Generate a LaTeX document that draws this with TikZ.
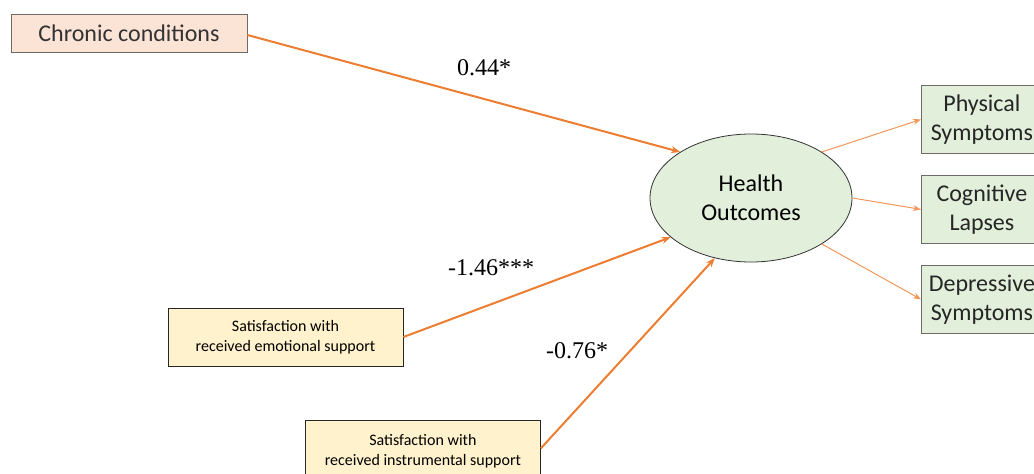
\documentclass[tikz,border=0pt]{standalone}
\usepackage{fontspec}
\setmainfont{Carlito}
\newfontfamily\labfont{Liberation Serif}
\usetikzlibrary{shapes.geometric,arrows.meta}
\definecolor{arrowor}{HTML}{ED7D31}
\definecolor{pinkfill}{HTML}{FBE3D6}
\definecolor{greenfill}{HTML}{E2EFDA}
\definecolor{yellowfill}{HTML}{FFF2CC}
\definecolor{boxline}{HTML}{6F6A68}
\begin{document}
\begin{tikzpicture}[x=1pt,y=-1pt,
  pinkbox/.style={draw=boxline,fill=pinkfill,line width=0.8pt,minimum width=236pt,minimum height=38pt,inner sep=0pt,font=\fontsize{24}{28}\selectfont,text=black!80},
  greenbox/.style={draw=boxline,fill=greenfill,line width=0.8pt,minimum width=121pt,minimum height=68pt,inner sep=0pt,align=center,font=\fontsize{24}{29}\selectfont,text=black!85},
  yellowbox/.style={draw=black!85,fill=yellowfill,line width=0.8pt,minimum width=235pt,minimum height=58pt,inner sep=0pt,align=center,font=\fontsize{16}{20}\selectfont},
  outc/.style={draw=black!80,fill=greenfill,ellipse,line width=0.8pt,minimum width=202pt,minimum height=128pt,inner sep=0pt,align=center,font=\fontsize{24}{29}\selectfont},
  mainarrow/.style={draw=arrowor,line width=2pt,-{Stealth[length=9pt,width=7pt]}},
  thinarrow/.style={draw=arrowor!80,line width=1pt,-{Stealth[length=8pt,width=6pt]}},
  coef/.style={font=\labfont\fontsize{24}{28}\selectfont,inner sep=0pt}
]
\useasboundingbox (0,0) rectangle (1034,474);
\begin{scope}
\clip (0,0) rectangle (1034,474);
\node[pinkbox] (cc) at (129,33) {Chronic conditions};
\node[outc] (ho) at (751,198) {Health\\Outcomes};
\node[greenbox,anchor=north west] (ps) at (921,85) {Physical\\Symptoms};
\node[greenbox,anchor=north west] (cl) at (921,175) {Cognitive\\Lapses};
\node[greenbox,anchor=north west] (ds) at (921,265) {Depressive\\Symptoms};
\node[yellowbox] (es) at (285.5,337) {Satisfaction with\\received emotional support};
\node[yellowbox,anchor=north west,minimum height=62pt] (is) at (305,420) {Satisfaction with\\received instrumental support};
\end{scope}
\draw[mainarrow] (cc.east) ++(0,2) -- (ho.147);
\draw[mainarrow] (es.east) -- (ho.206);
\draw[mainarrow] (is.east) ++(0,-3) -- (ho.239);
\draw[thinarrow] (ho.33) -- (ps.west);
\draw[thinarrow] (ho.east) -- (cl.west);
\draw[thinarrow] (ho.-33) -- (ds.west);
\node[coef] (l1) at (484,68) {0.44*};
\node[coef] (l2) at (491,268) {-1.46***};
\node[coef] (l3) at (577,351) {-0.76*};
\end{tikzpicture}
\end{document}
